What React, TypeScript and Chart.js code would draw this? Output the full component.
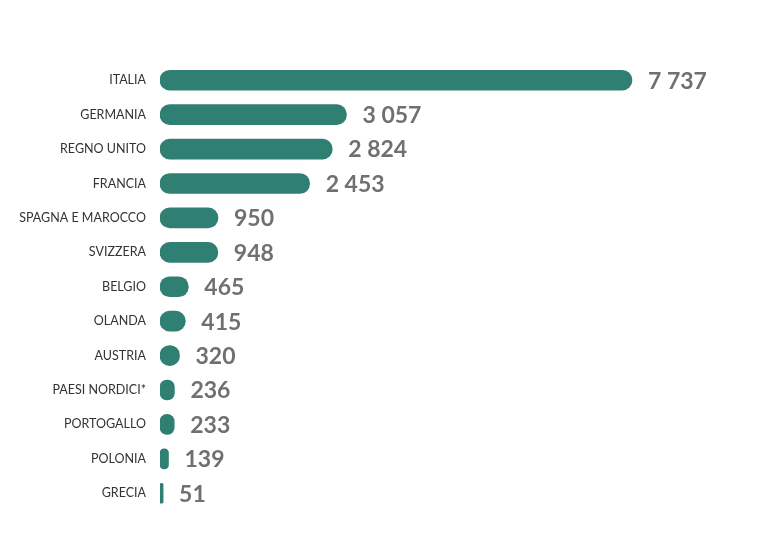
import React, { useEffect, useRef } from "react";
import { Chart, registerables } from "chart.js";

Chart.register(...registerables);

const categories: string[] = [
  "ITALIA",
  "GERMANIA",
  "REGNO UNITO",
  "FRANCIA",
  "SPAGNA E MAROCCO",
  "SVIZZERA",
  "BELGIO",
  "OLANDA",
  "AUSTRIA",
  "PAESI NORDICI*",
  "PORTOGALLO",
  "POLONIA",
  "GRECIA",
];

const values: number[] = [7737, 3057, 2824, 2453, 950, 948, 465, 415, 320, 236, 233, 139, 51];

const BAR_COLOR = "#2f7f73";
const VALUE_COLOR = "#707070";
const LABEL_COLOR = "#333333";

const formatValue = (v: number) => v.toLocaleString("en-US").replace(/,/g, " ");

const valueLabelPlugin = {
  id: "valueLabels",
  afterDatasetsDraw(chart: any) {
    const ctx = chart.ctx;
    const meta = chart.getDatasetMeta(0);
    ctx.save();
    ctx.font = "bold 23px Lato";
    ctx.fillStyle = VALUE_COLOR;
    ctx.textAlign = "left";
    ctx.textBaseline = "middle";
    meta.data.forEach((bar: any, i: number) => {
      const v = chart.data.datasets[0].data[i] as number;
      ctx.fillText(formatValue(v), bar.x + 16, bar.y + 1);
    });
    ctx.restore();
  },
};

export default function App() {
  const canvasRef = useRef<HTMLCanvasElement | null>(null);

  useEffect(() => {
    if (!canvasRef.current) return;
    const chart = new Chart(canvasRef.current, {
      type: "bar",
      data: {
        labels: categories,
        datasets: [
          {
            data: values,
            backgroundColor: BAR_COLOR,
            borderRadius: 10,
            borderSkipped: false,
            barThickness: 20,
          },
        ],
      },
      options: {
        indexAxis: "y",
        animation: false,
        responsive: true,
        maintainAspectRatio: false,
        layout: { padding: { top: 55, bottom: 21, left: 0, right: 0 } },
        plugins: {
          legend: { display: false },
          tooltip: { enabled: false },
        },
        scales: {
          x: {
            display: false,
            min: 0,
            max: 10000,
          },
          y: {
            afterFit: (scale: any) => {
              scale.width = 152;
            },
            grid: { display: false, drawTicks: false },
            border: { display: false },
            ticks: {
              padding: 14,
              color: LABEL_COLOR,
              font: { family: "Lato", size: 12.5 },
            },
          },
        },
      },
      plugins: [valueLabelPlugin],
    });
    return () => chart.destroy();
  }, []);

  return (
    <div style={{ width: 762, height: 524, position: "relative" }}>
      <canvas ref={canvasRef} />
    </div>
  );
}
